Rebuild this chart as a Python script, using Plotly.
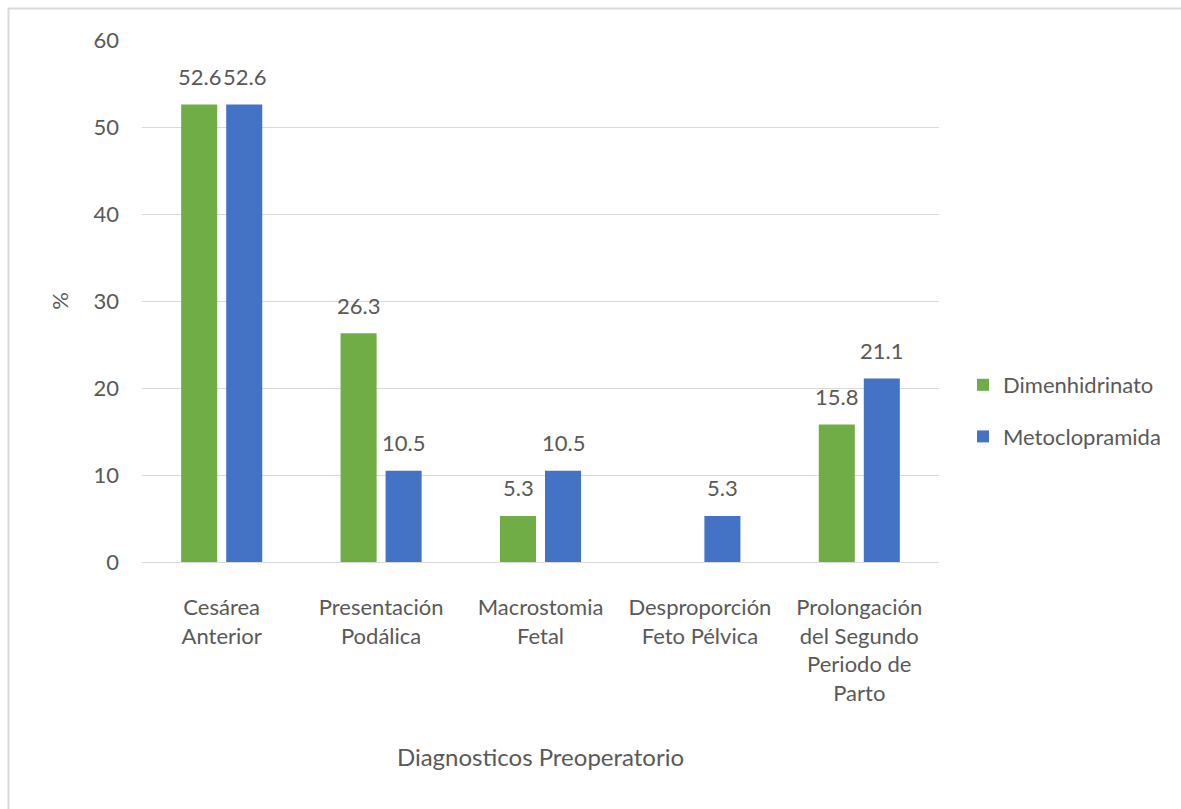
import plotly.graph_objects as go

categories = [
    "Cesárea<br>Anterior",
    "Presentación<br>Podálica",
    "Macrostomia<br>Fetal",
    "Desproporción<br>Feto Pélvica",
    "Prolongación<br>del Segundo<br>Periodo de<br>Parto",
]
dimenhidrinato = [52.6, 26.3, 5.3, None, 15.8]
metoclopramida = [52.6, 10.5, 10.5, 5.3, 21.1]
y_ticks = [0, 10, 20, 30, 40, 50, 60]

GREEN = "#70AD47"
BLUE = "#4472C4"
TEXT = "#595959"
FONT = "Lato"
FS = 22

W, H = 1181, 809
ML, MR, MT, MB = 142, 242, 40, 247
PW, PH = W - ML - MR, H - MT - MB

fig = go.Figure()
fig.add_trace(go.Bar(name="Dimenhidrinato", x=categories, y=dimenhidrinato,
                     marker=dict(color=GREEN, line=dict(width=0)),
                     legendgroup="a"))
fig.add_trace(go.Bar(name="Metoclopramida", x=categories, y=metoclopramida,
                     marker=dict(color=BLUE, line=dict(width=0)),
                     legendgroup="b"))

# value labels above each bar
annotations = []
for vals, shift in ((dimenhidrinato, -22.5), (metoclopramida, 22.5)):
    for cat, v in zip(categories, vals):
        if v is None:
            continue
        annotations.append(dict(x=cat, y=v, xref="x", yref="y", text=f"{v:.1f}",
                                showarrow=False, xshift=shift, yshift=28,
                                yanchor="middle",
                                font=dict(family=FONT, size=FS, color=TEXT)))


def px_to_paper_x(px):
    return (px - ML) / PW


def px_to_paper_y(py):
    return (H - MB - py) / PH


fig.update_layout(
    width=W, height=H,
    margin=dict(l=ML, r=MR, t=MT, b=MB),
    paper_bgcolor="white", plot_bgcolor="white",
    barmode="group", bargap=0.435, bargroupgap=0.2,
    font=dict(family=FONT, size=FS, color=TEXT),
    annotations=annotations,
    showlegend=True,
    legend=dict(x=px_to_paper_x(963), y=px_to_paper_y(411), xanchor="left",
                yanchor="middle", traceorder="grouped", tracegroupgap=20,
                font=dict(family=FONT, size=FS, color=TEXT),
                bgcolor="rgba(0,0,0,0)", itemwidth=30),
    # light frame around the chart area
    shapes=[dict(type="rect", xref="paper", yref="paper",
                 x0=px_to_paper_x(8.5), x1=px_to_paper_x(1200),
                 y0=px_to_paper_y(830), y1=px_to_paper_y(8.5),
                 line=dict(color="#d9d9d9", width=2), fillcolor="rgba(0,0,0,0)",
                 layer="below")],
    xaxis=dict(
        title=dict(text="Diagnosticos Preoperatorio", standoff=44,
                   font=dict(family=FONT, size=24, color=TEXT)),
        tickfont=dict(family=FONT, size=FS, color=TEXT),
        ticklabelstandoff=30, ticks="", showline=False, showgrid=False,
    ),
    yaxis=dict(
        title=dict(text="%", standoff=18, font=dict(family=FONT, size=FS, color=TEXT)),
        range=[0, 60], tickvals=y_ticks, ticks="",
        tickfont=dict(family=FONT, size=FS, color=TEXT),
        ticklabelstandoff=22,
        showgrid=True, gridcolor="#d9d9d9", gridwidth=1,
        zeroline=True, zerolinecolor="#d9d9d9", zerolinewidth=1,
        showline=False,
    ),
)

fig.write_html("out.html")
